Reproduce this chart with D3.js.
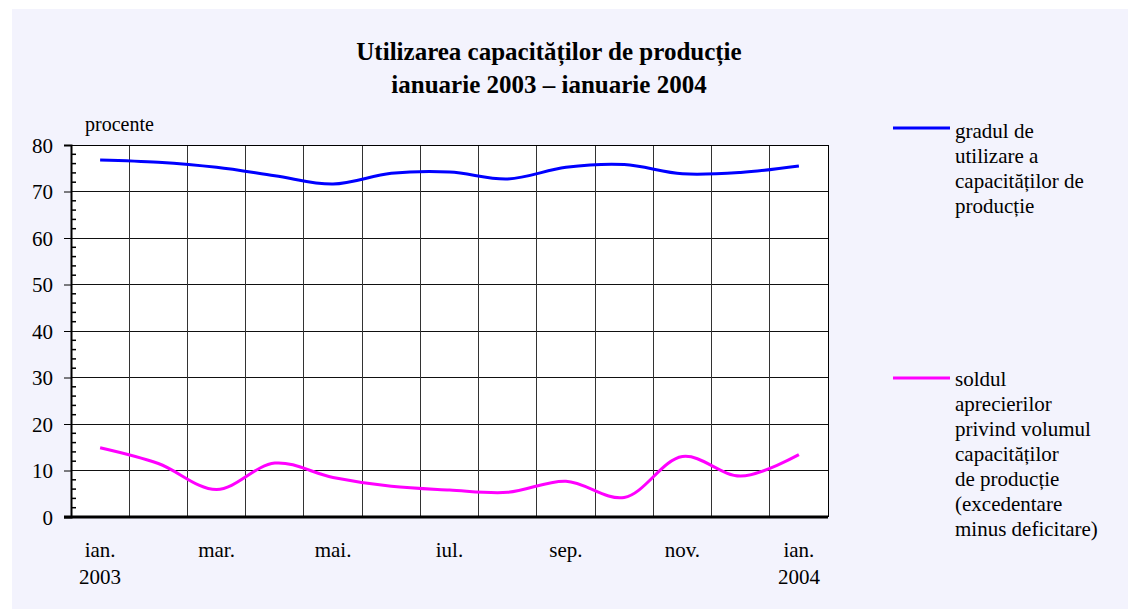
<!DOCTYPE html>
<html>
<head>
<meta charset="utf-8">
<script src="https://cdn.jsdelivr.net/npm/d3@7"></script>
<style>
html,body{margin:0;padding:0;background:#fff;}
svg{display:block;}
svg text{font-family:"Liberation Serif","Times New Roman",serif;}
</style>
</head>
<body>
<svg id="chart" width="1128" height="609"></svg>
<script>
const months = ["ian. 2003","feb. 2003","mar. 2003","apr. 2003","mai. 2003","iun. 2003","iul. 2003","aug. 2003","sep. 2003","oct. 2003","nov. 2003","dec. 2003","ian. 2004"];
const tickLabels = [["ian.","2003"],[""],["mar."],[""],["mai."],[""],["iul."],[""],["sep."],[""],["nov."],[""],["ian.","2004"]];
const utilizare = [76.8, 76.3, 75.2, 73.4, 71.6, 73.9, 74.2, 72.7, 75.2, 75.8, 73.8, 74.1, 75.5];
const sold = [14.9, 11.5, 5.9, 11.6, 8.5, 6.6, 5.8, 5.3, 7.7, 4.2, 13.0, 8.8, 13.4];
const yTicks = [0,10,20,30,40,50,60,70,80];
const seriesNames = [
  ["gradul de","utilizare a","capacităților de","producție"],
  ["soldul","aprecierilor","privind volumul","capacităților","de producție","(excedentare","minus deficitare)"]
];
const colors = ["#0000ff","#ff00ff"];
const FF = "Liberation Serif";

const svg = d3.select("#chart");
svg.append("rect").attr("x",12).attr("y",9).attr("width",1116).attr("height",600).attr("fill","#f3f3fd");

const L=71, R=828, T=145, B=517;
const x = d3.scaleBand().domain(months).range([L,R]).padding(0);
const y = d3.scaleLinear().domain([0,80]).range([B,T]);

svg.append("rect").attr("x",L).attr("y",T).attr("width",R-L).attr("height",B-T).attr("fill","#fff");

// horizontal grid
svg.append("g").selectAll("line").data(yTicks).join("line")
  .attr("x1",L).attr("x2",R).attr("y1",d=>y(d)).attr("y2",d=>y(d))
  .attr("stroke","#111").attr("stroke-width",1).attr("shape-rendering","crispEdges");
// vertical grid at band boundaries
svg.append("g").selectAll("line").data(months.slice(1)).join("line")
  .attr("x1",d=>x(d)).attr("x2",d=>x(d)).attr("y1",T).attr("y2",B)
  .attr("stroke","#333").attr("stroke-width",1).attr("shape-rendering","crispEdges");
// borders
svg.append("line").attr("x1",R).attr("x2",R).attr("y1",T).attr("y2",B).attr("stroke","#000").attr("shape-rendering","crispEdges");
svg.append("line").attr("x1",L).attr("x2",R).attr("y1",T).attr("y2",T).attr("stroke","#000").attr("shape-rendering","crispEdges");

// y axis
const yAxis = d3.axisLeft(y).tickValues(yTicks).tickSize(7).tickFormat(d3.format("d"));
const gy = svg.append("g").attr("transform",`translate(${L},0)`).call(yAxis)
  .attr("font-family",FF).attr("font-size",21);
gy.select(".domain").attr("stroke","#000").attr("stroke-width",2);
gy.selectAll(".tick line").attr("stroke","#000");
gy.selectAll(".tick text").attr("font-size",21).attr("font-family",FF).attr("fill","#000").attr("x",-18).attr("dy","0.34em");
// minor ticks inside
const minor = d3.range(0,81,2).filter(v=>v%10!==0);
svg.append("g").selectAll("line").data(minor).join("line")
  .attr("x1",L).attr("x2",L+5).attr("y1",d=>y(d)).attr("y2",d=>y(d))
  .attr("stroke","#000").attr("stroke-width",1.5);

// x axis baseline
svg.append("line").attr("x1",L-7).attr("x2",R).attr("y1",B).attr("y2",B).attr("stroke","#000").attr("stroke-width",3);

// x labels
const gx = svg.append("g");
months.forEach((m,i)=>{
  const t = gx.append("text").attr("text-anchor","middle").attr("font-size",21).attr("font-family",FF).attr("fill","#000");
  tickLabels[i].forEach((s,j)=>{
    t.append("tspan").attr("x",x(m)+x.bandwidth()/2).attr("y",557+j*27).text(s);
  });
});

// lines
const line = d3.line().x((d,i)=>x(months[i])+x.bandwidth()/2).y(d=>y(d)).curve(d3.curveCatmullRom.alpha(0.5));
[utilizare,sold].forEach((s,k)=>{
  svg.append("path").datum(s).attr("d",line).attr("fill","none").attr("stroke",colors[k]).attr("stroke-width",3).attr("stroke-linejoin","round");
});

// title
svg.append("text").attr("x",549).attr("y",60).attr("text-anchor","middle").attr("font-family",FF).attr("font-size",25).attr("font-weight","bold").text("Utilizarea capacităților de producție");
svg.append("text").attr("x",549).attr("y",93).attr("text-anchor","middle").attr("font-family",FF).attr("font-size",25).attr("font-weight","bold").text("ianuarie 2003 – ianuarie 2004");
svg.append("text").attr("x",85).attr("y",131).attr("font-family",FF).attr("font-size",20).text("procente");

// legend
const legY = [128, 378];
const legBase = [137.5, 386];
seriesNames.forEach((names,k)=>{
  svg.append("line").attr("x1",893).attr("x2",950).attr("y1",legY[k]).attr("y2",legY[k]).attr("stroke",colors[k]).attr("stroke-width",3);
  const t = svg.append("text").attr("font-size",21).attr("font-family",FF).attr("fill","#000");
  names.forEach((s,j)=>t.append("tspan").attr("x",955).attr("y",legBase[k]+j*25).text(s));
});
</script>
</body>
</html>
